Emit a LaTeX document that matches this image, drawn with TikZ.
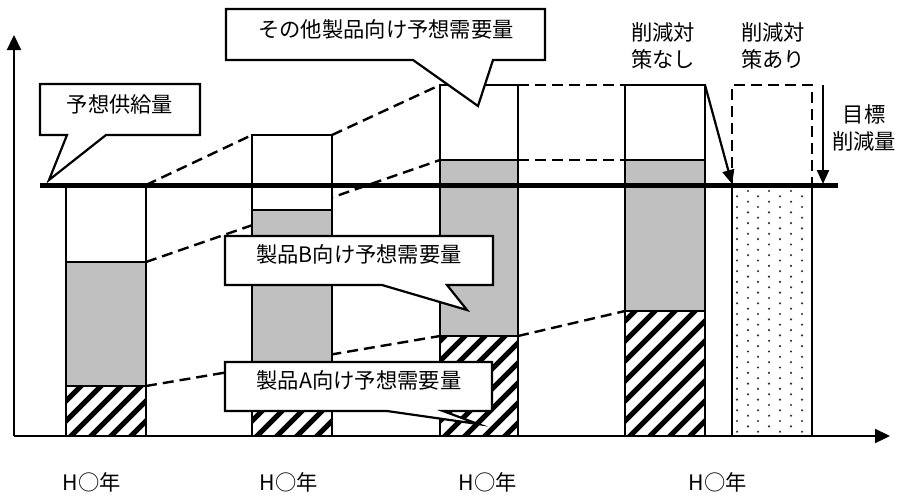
\documentclass[tikz,border=0pt]{standalone}
\usepackage{fontspec}
\setmainfont{Noto Sans CJK JP}
\usetikzlibrary{arrows.meta}
\definecolor{barGray}{HTML}{C0C0C0}
\definecolor{dotGray}{HTML}{303030}
\newcommand\myhatch[4]{%
  \begin{scope}
    \clip (#1,#2) rectangle (#3,#4);
    \fill[white] (#1,#2) rectangle (#3,#4);
    \foreach \k in {-8,...,5}{\draw[line width=5pt] ({#1+20*\k},#4+5) -- ++(220,-220);}
  \end{scope}}
\newcommand\mybar[6]{% x1 x2 top graytop hatchtop bottom
  \fill[white] (#1,#3) rectangle (#2,#4);
  \fill[barGray] (#1,#4) rectangle (#2,#5);
  \myhatch{#1}{#5}{#2}{#6}
  \draw[barline] (#1,#3) rectangle (#2,#6);
  \draw[barline] (#1,#4) -- (#2,#4);
  \draw[barline] (#1,#5) -- (#2,#5);}
\begin{document}
\begin{tikzpicture}[x=1pt,y=-1pt,
  barline/.style={draw=black,line width=2.5pt},
  dashline/.style={draw=black,line width=2.4pt,dash pattern=on 11pt off 6pt},
  callout/.style={draw=black,fill=white,line width=2.2pt,line join=miter},
  txt/.style={font=\fontsize{21.3}{27}\selectfont,inner sep=0pt,align=center},
  axis/.style={line width=2.2pt,-{Triangle[length=15pt,width=14pt]}},
  arr/.style={line width=2.2pt,-{Triangle[length=14pt,width=12pt]}}]
\useasboundingbox (0,0) rectangle (901,498);
\fill[white] (0,0) rectangle (901,498);

% dashed guide lines
\draw[dashline] (146,185) -- (252,135);
\draw[dashline] (332,135) -- (440,85);
\draw[dashline] (518,85) -- (625,85);
\draw[dashline] (146,262) -- (440,160);
\draw[dashline] (518,160) -- (625,160);
\draw[dashline] (146,386) -- (440,336);
\draw[dashline] (518,336) -- (625,311);

% bars
\mybar{66}{146}{185}{262}{386}{436}
\mybar{252}{332}{135}{210}{395}{436}
\mybar{440}{518}{85}{160}{336}{436}
\mybar{625}{705}{85}{160}{311}{436}

% bar with measures (dotted)
\fill[white] (732,185) rectangle (812,436);
\foreach \r in {0,...,22}{
  \foreach \xx in {748,769,791}{\fill[dotGray] (\xx,{191+10.7*\r}) circle (1.2pt);}
  \foreach \xx in {737,758,780,802}{\fill[dotGray] (\xx,{196.3+10.7*\r}) circle (1.2pt);}
}
\draw[barline] (732,185) rectangle (812,436);
\draw[dashline] (732,185) -- (732,85) -- (812,85) -- (812,185);

% supply line
\coordinate (supL) at (40,185);
\coordinate (supR) at (838,185);
\draw[line width=5pt] (supL) -- (supR);

% axes
\coordinate (origin) at (14,436);
\coordinate (ytip) at (14,35);
\coordinate (xtip) at (890,436);
\draw[axis] (origin) -- (ytip);
\draw[axis] (origin) -- (xtip);

% arrows
\coordinate (b4tr) at (705,85);
\coordinate (b5in) at (732,184);
\draw[arr] (b4tr) -- (b5in);
\coordinate (tgtTop) at (823,85);
\coordinate (tgtBot) at (823,184);
\draw[arr] (tgtTop) -- (tgtBot);

% callouts
\draw[callout] (40,84) -- (200,84) -- (200,135) -- (106,135) -- (49,180) -- (67,135) -- (40,135) -- cycle;
\draw[callout] (226,9) -- (545,9) -- (545,60) -- (493,60) -- (478,106) -- (413,60) -- (226,60) -- cycle;
\draw[callout] (225,236) -- (493,236) -- (493,285) -- (447,285) -- (467,310) -- (382,285) -- (225,285) -- cycle;
\draw[callout] (225,362) -- (492,362) -- (492,411) -- (443,411) -- (478,424) -- (387,411) -- (225,411) -- cycle;

% texts
\node[txt] (supply) at (120,104) {予想供給量};
\node[txt] (other) at (386,29) {その他製品向け予想需要量};
\node[txt] (prodB) at (359,254) {製品B向け予想需要量};
\node[txt] (prodA) at (359,380) {製品A向け予想需要量};
\node[txt] (nomeas) at (663,46) {削減対\\策なし};
\node[txt] (meas) at (773,46) {削減対\\策あり};
\node[txt] (target) at (864,128) {目標\\削減量};
\node[txt] (y1) at (92,482) {H○年};
\node[txt] (y2) at (289,482) {H○年};
\node[txt] (y3) at (488,482) {H○年};
\node[txt] (y4) at (718,482) {H○年};
\end{tikzpicture}
\end{document}
